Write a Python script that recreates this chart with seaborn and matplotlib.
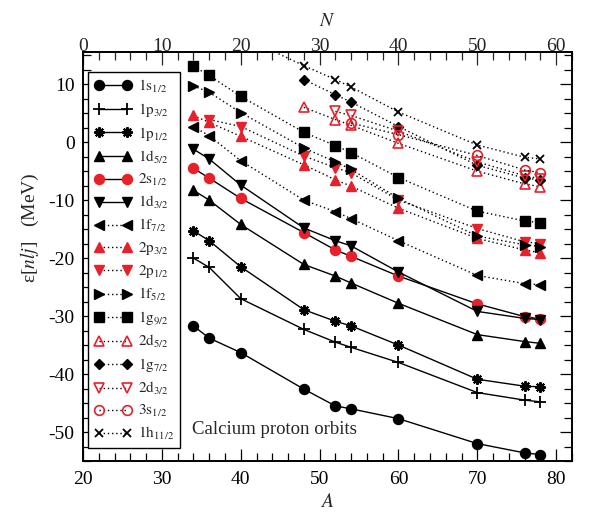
import matplotlib
matplotlib.use("Agg")
import matplotlib.pyplot as plt
import seaborn as sns
import pandas as pd
from matplotlib.ticker import FixedLocator

# ---------------- data ----------------
A_full = [34, 36, 40, 48, 52, 54, 60, 70, 76, 78]
A_2p12 = [36, 40, 48, 52, 54, 60, 70, 76, 78]
A_2d52 = [48, 52, 54, 60, 70, 76, 78]
A_1g72 = [48, 52, 54, 60, 70, 76, 78]
A_2d32 = [52, 54, 60, 70, 76, 78]
A_3s12 = [54, 60, 70, 76, 78]
A_1h112 = [40, 48, 52, 54, 60, 70, 76, 78]

E_1s12 = [-31.7, -33.8, -36.3, -42.6, -45.5, -46.0, -47.7, -52.0, -53.6, -53.9]
E_1p32 = [-20.0, -21.6, -27.0, -32.3, -34.5, -35.4, -38.0, -43.2, -44.5, -44.8]
E_1p12 = [-15.3, -17.0, -21.5, -28.9, -30.9, -31.7, -35.0, -40.9, -42.1, -42.2]
E_1d52 = [-8.3, -10.0, -14.2, -21.1, -23.1, -24.3, -27.8, -33.2, -34.4, -34.7]
E_2s12 = [-4.5, -6.2, -9.7, -15.6, -18.6, -19.7, -23.1, -27.9, -30.1, -30.5]
E_1d32 = [-1.2, -2.9, -7.4, -14.8, -17.0, -17.9, -22.4, -29.2, -30.4, -30.6]
E_1f72 = [2.7, 1.1, -3.2, -10.0, -12.0, -13.2, -17.0, -23.0, -24.4, -24.6]
E_2p32 = [4.6, 3.4, 1.0, -3.9, -6.5, -7.6, -11.4, -16.6, -18.6, -19.1]
E_2p12 = [3.9, 2.7, -2.4, -4.4, -5.3, -10.0, -14.9, -17.2, -17.5]
E_1f52 = [9.7, 8.6, 5.1, -1.0, -3.4, -4.7, -9.7, -16.2, -17.7, -18.0]
E_1g92 = [13.1, 11.5, 7.9, 1.7, -0.6, -1.8, -6.1, -11.9, -13.6, -13.9]
E_2d52 = [6.0, 3.9, 2.9, -0.2, -5.0, -7.2, -7.7]
E_1g72 = [10.8, 8.2, 6.9, 2.7, -4.0, -6.2, -6.5]
E_2d32 = [5.3, 4.6, 1.9, -3.4, -5.8, -6.3]
E_3s12 = [3.3, 1.3, -2.3, -4.8, -5.3]
E_1h112 = [18.3, 13.2, 10.8, 9.5, 5.2, -0.5, -2.6, -2.9]

orbit_labels = [r"$\mathrm{1s_{1/2}}$", r"$\mathrm{1p_{3/2}}$", r"$\mathrm{1p_{1/2}}$",
                r"$\mathrm{1d_{5/2}}$", r"$\mathrm{2s_{1/2}}$", r"$\mathrm{1d_{3/2}}$",
                r"$\mathrm{1f_{7/2}}$", r"$\mathrm{2p_{3/2}}$", r"$\mathrm{2p_{1/2}}$",
                r"$\mathrm{1f_{5/2}}$", r"$\mathrm{1g_{9/2}}$", r"$\mathrm{2d_{5/2}}$",
                r"$\mathrm{1g_{7/2}}$", r"$\mathrm{2d_{3/2}}$", r"$\mathrm{3s_{1/2}}$",
                r"$\mathrm{1h_{11/2}}$"]

A_major = [20, 30, 40, 50, 60, 70, 80]
N_major = [0, 10, 20, 30, 40, 50, 60]
E_major = [-50, -40, -30, -20, -10, 0, 10]

# ---------------- styling ----------------
sns.set_style("ticks")
plt.rcParams["font.family"] = ["Liberation Serif", "DejaVu Serif"]
plt.rcParams["mathtext.fontset"] = "stix"
plt.rcParams["axes.unicode_minus"] = False
plt.rcParams["xtick.direction"] = "in"
plt.rcParams["ytick.direction"] = "in"

RED = "#e8202a"
BLK = "black"

series = [
    (A_full, E_1s12, "o", BLK, True, "-", 7.2, 1.0),
    (A_full, E_1p32, "+", BLK, True, "-", 8.5, 1.3),
    (A_full, E_1p12, (8, 2, 0), BLK, True, "-", 7.5, 1.5),
    (A_full, E_1d52, "^", BLK, True, "-", 7.5, 1.0),
    (A_full, E_2s12, "o", RED, True, "-", 7.2, 1.0),
    (A_full, E_1d32, "v", BLK, True, "-", 7.5, 1.0),
    (A_full, E_1f72, "<", BLK, True, ":", 7.5, 1.0),
    (A_full, E_2p32, "^", RED, True, ":", 7.5, 1.0),
    (A_2p12, E_2p12, "v", RED, True, ":", 7.5, 1.0),
    (A_full, E_1f52, ">", BLK, True, ":", 7.5, 1.0),
    (A_full, E_1g92, "s", BLK, True, ":", 6.5, 1.0),
    (A_2d52, E_2d52, "^", RED, False, ":", 7.0, 1.2),
    (A_1g72, E_1g72, "D", BLK, True, ":", 5.6, 1.0),
    (A_2d32, E_2d32, "v", RED, False, ":", 7.0, 1.2),
    (A_3s12, E_3s12, "o", RED, False, ":", 7.0, 1.2),
    (A_1h112, E_1h112, "x", BLK, True, ":", 5.5, 1.3),
]

fig = plt.figure(figsize=(5.92, 5.15), dpi=100)
ax = fig.add_axes([83 / 592, 54 / 515, 489 / 592, 408.7 / 515])

handles = []
for (A, E, mk, col, filled, ls, ms, mew), lab in zip(series, orbit_labels):
    df = pd.DataFrame({"A": A, "E": E})
    n_before = len(ax.lines)
    sns.lineplot(data=df, x="A", y="E", ax=ax, color=BLK, linewidth=1.0,
                 linestyle=ls, marker=mk, markersize=ms,
                 markerfacecolor=(col if filled else "none"),
                 markeredgecolor=col, markeredgewidth=mew, legend=False)
    ln = ax.lines[n_before]
    if ls == ":":
        ln.set_dashes([1.0, 2.0])
    ln.set_label(lab)
    handles.append(ln)

ax.set_xlim(20, 82)
ax.set_ylim(-55, 15.5)
ax.xaxis.set_major_locator(FixedLocator(A_major))
ax.xaxis.set_minor_locator(FixedLocator([a for a in range(20, 83, 2)]))
ax.yaxis.set_major_locator(FixedLocator(E_major))
ax.yaxis.set_minor_locator(FixedLocator([-55 + 2.5 * i for i in range(29)]))
ax.tick_params(which="both", direction="in", top=False, right=True,
               labelsize=14, width=0.9, colors="black")
ax.tick_params(which="major", length=9)
ax.tick_params(which="minor", length=5.5)
ax.tick_params(axis="x", pad=7)
ax.tick_params(axis="y", pad=6)
for sp in ax.spines.values():
    sp.set_linewidth(1.4)
    sp.set_color("black")

sec = ax.secondary_xaxis("top", functions=(lambda a: a - 20, lambda n: n + 20))
sec.xaxis.set_major_locator(FixedLocator(N_major))
sec.xaxis.set_minor_locator(FixedLocator([n for n in range(0, 63, 2)]))
sec.tick_params(which="both", direction="in", labelsize=14, width=0.9, pad=-2)
sec.tick_params(which="major", length=9)
sec.tick_params(which="minor", length=5.5)
sec.spines["top"].set_linewidth(1.4)
sec.set_xlabel(r"$N$", fontsize=14, labelpad=9)

ax.set_xlabel(r"$A$", fontsize=14, labelpad=4)
ax.set_ylabel(r"ε[$nlj$]   (MeV)", fontsize=14)
ax.yaxis.set_label_coords(-0.085, 0.57)

ax.text(0.223, 0.076, "Calcium proton orbits", transform=ax.transAxes,
        fontsize=13.5, ha="left", va="center")

leg = ax.legend(handles=handles, labels=orbit_labels, loc="upper left",
                bbox_to_anchor=(0.0102, 0.9525), borderaxespad=0, frameon=True,
                fancybox=False, edgecolor="black", framealpha=1, fontsize=11,
                numpoints=2, handlelength=2.45, handletextpad=0.42,
                labelspacing=0.39, borderpad=0.4)
leg.get_frame().set_linewidth(1.0)

fig.savefig("out.png", dpi=100)
